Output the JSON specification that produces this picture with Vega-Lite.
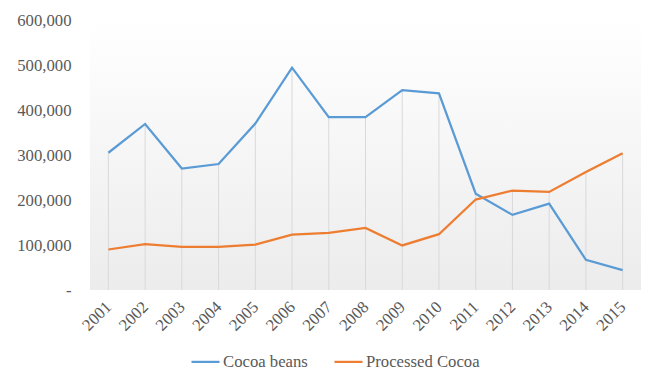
{
  "$schema": "https://vega.github.io/schema/vega-lite/v6.json",
  "width": 551,
  "height": 270,
  "autosize": {"type": "none"},
  "padding": {"left": 90, "top": 20, "right": 21, "bottom": 94},
  "background": "#ffffff",
  "config": {
    "font": "Times New Roman",
    "view": {
      "stroke": null,
      "fill": {
        "gradient": "linear",
        "x1": 0, "y1": 0, "x2": 0, "y2": 1,
        "stops": [
          {"offset": 0, "color": "#ffffff"},
          {"offset": 1, "color": "#ececec"}
        ]
      }
    },
    "axis": {
      "labelFont": "Times New Roman",
      "labelFontSize": 16.7,
      "labelColor": "#595959",
      "domain": false,
      "ticks": false,
      "grid": false,
      "title": null
    },
    "legend": {
      "labelFont": "Times New Roman",
      "labelFontSize": 16.7,
      "labelColor": "#595959"
    }
  },
  "data": {
    "values": [
      {"year": "2001", "series": "Cocoa beans", "value": 305000},
      {"year": "2002", "series": "Cocoa beans", "value": 369000},
      {"year": "2003", "series": "Cocoa beans", "value": 270000},
      {"year": "2004", "series": "Cocoa beans", "value": 280000},
      {"year": "2005", "series": "Cocoa beans", "value": 370000},
      {"year": "2006", "series": "Cocoa beans", "value": 494000},
      {"year": "2007", "series": "Cocoa beans", "value": 384000},
      {"year": "2008", "series": "Cocoa beans", "value": 384000},
      {"year": "2009", "series": "Cocoa beans", "value": 444000},
      {"year": "2010", "series": "Cocoa beans", "value": 437000},
      {"year": "2011", "series": "Cocoa beans", "value": 214000},
      {"year": "2012", "series": "Cocoa beans", "value": 167000},
      {"year": "2013", "series": "Cocoa beans", "value": 192000},
      {"year": "2014", "series": "Cocoa beans", "value": 67000},
      {"year": "2015", "series": "Cocoa beans", "value": 44000},
      {"year": "2001", "series": "Processed Cocoa", "value": 90000},
      {"year": "2002", "series": "Processed Cocoa", "value": 102000},
      {"year": "2003", "series": "Processed Cocoa", "value": 96000},
      {"year": "2004", "series": "Processed Cocoa", "value": 96000},
      {"year": "2005", "series": "Processed Cocoa", "value": 101000},
      {"year": "2006", "series": "Processed Cocoa", "value": 123000},
      {"year": "2007", "series": "Processed Cocoa", "value": 127000},
      {"year": "2008", "series": "Processed Cocoa", "value": 138000},
      {"year": "2009", "series": "Processed Cocoa", "value": 99000},
      {"year": "2010", "series": "Processed Cocoa", "value": 124000},
      {"year": "2011", "series": "Processed Cocoa", "value": 201000},
      {"year": "2012", "series": "Processed Cocoa", "value": 221000},
      {"year": "2013", "series": "Processed Cocoa", "value": 218000},
      {"year": "2014", "series": "Processed Cocoa", "value": 262000},
      {"year": "2015", "series": "Processed Cocoa", "value": 304000}
    ]
  },
  "encoding": {
    "x": {
      "field": "year",
      "type": "ordinal",
      "scale": {"type": "point", "padding": 0.5},
      "axis": {
        "labelAngle": -45,
        "labelAlign": "right",
        "labelBaseline": "middle",
        "labelPadding": 14
      }
    }
  },
  "layer": [
    {
      "mark": {"type": "rule", "color": "#d9d9d9", "strokeWidth": 1},
      "encoding": {
        "y": {"aggregate": "max", "field": "value", "type": "quantitative"},
        "y2": {"datum": 0}
      }
    },
    {
      "mark": {"type": "line", "strokeWidth": 2.25},
      "encoding": {
        "y": {
          "field": "value",
          "type": "quantitative",
          "scale": {"domain": [0, 600000], "nice": false},
          "axis": {
            "values": [0, 100000, 200000, 300000, 400000, 500000, 600000],
            "labelExpr": "datum.value === 0 ? '-' : format(datum.value, ',')",
            "labelPadding": 19
          }
        },
        "color": {
          "field": "series",
          "type": "nominal",
          "scale": {
            "domain": ["Cocoa beans", "Processed Cocoa"],
            "range": ["#5b9bd5", "#ed7d31"]
          },
          "legend": {
            "title": null,
            "orient": "none",
            "direction": "horizontal",
            "legendX": 100,
            "legendY": 326,
            "symbolType": "stroke",
            "symbolSize": 784,
            "symbolStrokeWidth": 2.25,
            "labelOffset": 2,
            "columnPadding": 22
          }
        }
      }
    }
  ]
}
